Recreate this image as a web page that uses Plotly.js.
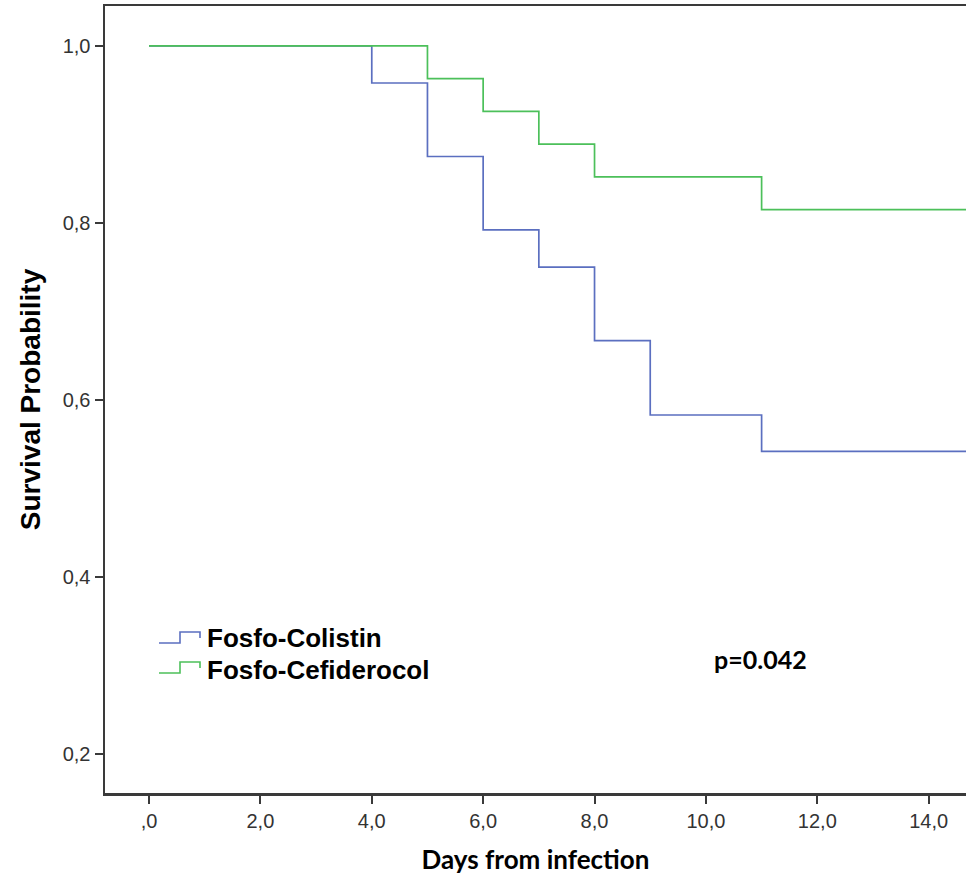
<!DOCTYPE html>
<html>
<head>
<meta charset="utf-8">
<script src="https://cdn.plot.ly/plotly-3.0.1.min.js"></script>
<style>html,body{margin:0;padding:0;background:#fff;}#chart{width:966px;height:881px;}</style>
</head>
<body>
<div id="chart"></div>
<script>
// Kaplan-Meier step data
const colistinDays = [0, 4, 5, 6, 7, 8, 9, 11, 15];
const colistinSurv = [1.0, 0.958, 0.875, 0.792, 0.750, 0.667, 0.583, 0.542, 0.542];
const cefiderocolDays = [0, 5, 6, 7, 8, 11, 15];
const cefiderocolSurv = [1.0, 0.963, 0.926, 0.889, 0.852, 0.815, 0.815];

const seriesNames = ["Fosfo-Colistin", "Fosfo-Cefiderocol"];
const seriesColors = ["#5b6fc0", "#4cc05a"];

const xTickVals = [0, 2, 4, 6, 8, 10, 12, 14];
const xTickText = [",0", "2,0", "4,0", "6,0", "8,0", "10,0", "12,0", "14,0"];
const yTickVals = [0.2, 0.4, 0.6, 0.8, 1.0];
const yTickText = ["0,2", "0,4", "0,6", "0,8", "1,0"];
const pValueText = "p=0.042";

const SANS = "Liberation Sans";
const CAL = "Lato";

const traces = [
  {x: colistinDays, y: colistinSurv, name: seriesNames[0], type: "scatter", mode: "lines",
   line: {shape: "hv", color: seriesColors[0], width: 1.7}},
  {x: cefiderocolDays, y: cefiderocolSurv, name: seriesNames[1], type: "scatter", mode: "lines",
   line: {shape: "hv", color: seriesColors[1], width: 1.7}}
];

const plotL = 105, plotR = 966, plotT = 6, plotB = 793;
function px(x){ return (x - plotL) / (plotR - plotL); }
function py(y){ return (plotB - y) / (plotB - plotT); }
function stepIcon(yc, color){
  const p = `M ${px(159)} ${py(yc+5)} L ${px(180)} ${py(yc+5)} L ${px(180)} ${py(yc-6)} L ${px(200)} ${py(yc-6)} L ${px(200)} ${py(yc)}`;
  return {type: "path", xref: "paper", yref: "paper", path: p, line: {color: color, width: 1.6}};
}

const layout = {
  width: 966, height: 881,
  margin: {l: 105, r: 0, t: 6, b: 88},
  paper_bgcolor: "#fff", plot_bgcolor: "#fff",
  showlegend: false,
  font: {family: SANS},
  xaxis: {
    range: [-0.79, 14.67], tickvals: xTickVals, ticktext: xTickText,
    showgrid: false, zeroline: false, showline: true, linecolor: "#3a3a3a", linewidth: 2.5,
    mirror: true, ticks: "outside", ticklen: 8, tickwidth: 2, tickcolor: "#3a3a3a",
    tickfont: {family: SANS, size: 20, color: "#333"},
    title: {text: "<b>Days from infection</b>", font: {family: CAL, size: 26, color: "#000"}, standoff: 21}
  },
  yaxis: {
    range: [0.156, 1.045], tickvals: yTickVals, ticktext: yTickText,
    showgrid: false, zeroline: false, showline: true, linecolor: "#3a3a3a", linewidth: 2.5,
    ticks: "outside", ticklen: 8, tickwidth: 2, tickcolor: "#3a3a3a",
    tickfont: {family: SANS, size: 20, color: "#333"},
    title: {text: "<b>Survival Probability</b>", font: {family: SANS, size: 28, color: "#000"}, standoff: 14}
  },
  shapes: [stepIcon(638, seriesColors[0]), stepIcon(668, seriesColors[1])],
  annotations: [
    {xref: "paper", yref: "paper", x: px(205), y: py(638), xanchor: "left", yanchor: "middle", showarrow: false,
     text: "<b>" + seriesNames[0] + "</b>", font: {family: SANS, size: 26, color: "#000"}},
    {xref: "paper", yref: "paper", x: px(205), y: py(670), xanchor: "left", yanchor: "middle", showarrow: false,
     text: "<b>" + seriesNames[1] + "</b>", font: {family: SANS, size: 26, color: "#000"}},
    {xref: "paper", yref: "paper", x: px(760), y: py(659), xanchor: "center", yanchor: "middle", showarrow: false,
     text: "<b>" + pValueText + "</b>", font: {family: CAL, size: 25, color: "#000"}}
  ]
};

Plotly.newPlot("chart", traces, layout, {displayModeBar: false, staticPlot: true});
</script>
</body>
</html>
